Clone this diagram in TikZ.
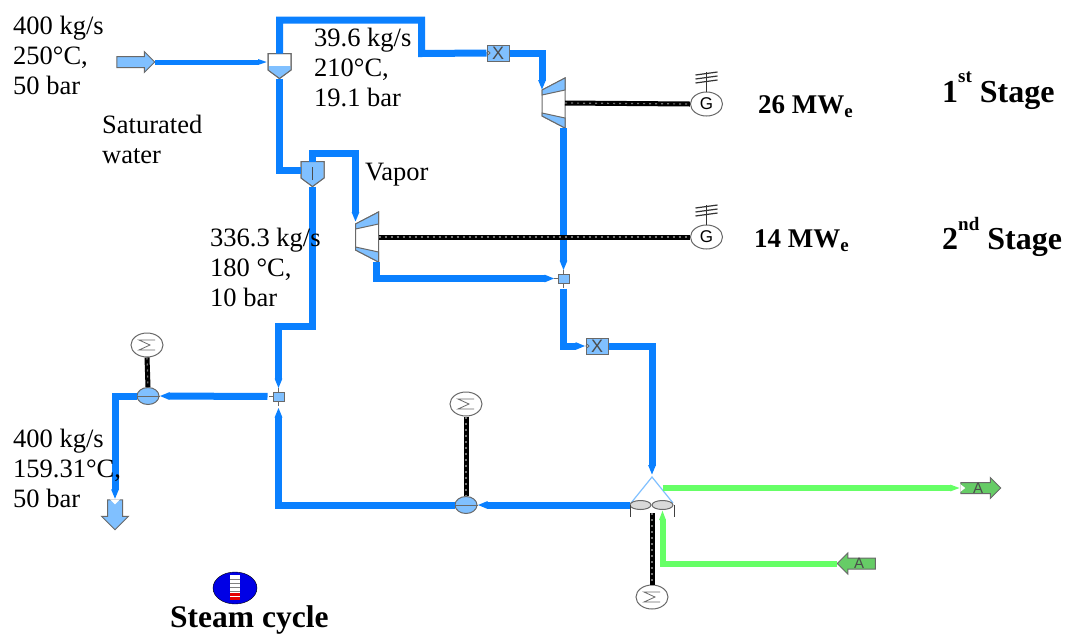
\documentclass[tikz,border=0pt]{standalone}
\usepackage{fontspec}
\setmainfont{Liberation Serif}
\setsansfont{Liberation Sans}
\usetikzlibrary{arrows.meta,shapes.geometric,shapes.arrows}
\definecolor{pipeblue}{RGB}{10,128,255}
\definecolor{waterblue}{RGB}{128,192,255}
\definecolor{pipegreen}{RGB}{102,255,102}
\definecolor{airgreen}{RGB}{102,204,102}
\definecolor{edgegray}{RGB}{105,105,105}
\tikzset{
  pipe/.style={draw=pipeblue,line width=7pt,-{Triangle[length=10pt,width=7pt]}},
  pipeplain/.style={draw=pipeblue,line width=7pt},
  pipethin/.style={draw=pipeblue,line width=5pt,-{Triangle[length=10pt,width=5pt]}},
  airpipe/.style={draw=pipegreen,line width=6pt,-{Triangle[length=10pt,width=6pt]}},
  shaft/.style={draw=black,line width=5pt,postaction={draw=white!45!black,line width=1.2pt,dash pattern=on 2pt off 4pt}},
  part/.style={draw=edgegray,line width=1pt},
  hold/.style={inner sep=0pt,outer sep=0pt,rectangle},
  valvebox/.style={part,fill=waterblue,text=black!70,rectangle,inner sep=0pt,minimum width=22pt,minimum height=16pt,font=\sffamily\fontsize{18}{18}\selectfont},
  mixbox/.style={part,fill=waterblue,rectangle,inner sep=0pt,minimum width=11pt,minimum height=9pt},
  round/.style={part,fill=white,ellipse,inner sep=0pt,minimum width=32pt,minimum height=24pt},
  pumpnode/.style={part,fill=waterblue,ellipse,inner sep=0pt,minimum width=22pt,minimum height=17pt},
  portarrow/.style={part,single arrow,inner xsep=0pt,inner ysep=0pt,text height=10pt,text depth=0pt,single arrow head extend=5pt,text=black!70,font=\sffamily\fontsize{15}{15}\selectfont},
  lbl/.style={align=left,anchor=west,inner sep=0pt,font=\fontsize{26.5}{30}\selectfont},
  boldlbl/.style={anchor=west,inner sep=0pt,font=\bfseries\fontsize{27}{30}\selectfont},
  stagelbl/.style={anchor=west,inner sep=0pt,font=\bfseries\fontsize{32}{30}\selectfont},
}
% name, x, y
\newcommand{\Turbine}[3]{
  \begin{scope}[shift={(#2,#3)}]
  \draw[part,fill=white] (-11.5,-13) -- (11.5,-25) -- (11.5,25) -- (-11.5,13) -- cycle;
  \draw[part,fill=waterblue] (-11.5,-13) -- (11.5,-25) -- (11.5,-13) -- (-11.5,-8) -- cycle;
  \draw[part,fill=waterblue] (-11.5,10) -- (11.5,15) -- (11.5,25) -- (-11.5,13) -- cycle;
  \node[hold,minimum width=23pt,minimum height=50pt] (#1) at (0,0) {};
  \end{scope}
}
% name, x, y, top of the water
\newcommand{\FlashTank}[4]{
  \begin{scope}[shift={(#2,#3)}]
  \draw[part,fill=white] (-11.5,-12.5) -- (11.5,-12.5) -- (11.5,4) -- (0,12.5) -- (-11.5,4) -- cycle;
  \fill[waterblue] (-11,#4) -- (11,#4) -- (11,4) -- (0,12) -- (-11,4) -- cycle;
  \draw[part] (-11.5,-12.5) -- (11.5,-12.5) -- (11.5,4) -- (0,12.5) -- (-11.5,4) -- cycle;
  \node[hold,minimum width=23pt,minimum height=25pt] (#1) at (0,0) {};
  \end{scope}
}
% name, x, y
\newcommand{\Motor}[3]{
  \node[round] (#1) at (#2,#3) {};
  \begin{scope}[shift={(#2,#3)}]
  \draw[part,line width=0.8pt] (8,-5) -- (-8,-5) -- (3,0) -- (-8,5) -- (8,5);
  \end{scope}
}
% name, x, y
\newcommand{\Generator}[3]{
  \node[round,font=\sffamily\fontsize{17}{17}\selectfont] (#1) at (#2,#3) {G};
  \begin{scope}[shift={(#2,#3)}]
  \draw[black!80,line width=1pt] (0,-12) -- (0,-32);
  \draw[black!80,line width=1.2pt] (-11,-29) -- (11,-32);
  \draw[black!80,line width=1.2pt] (-11,-25) -- (11,-28);
  \draw[black!80,line width=1.2pt] (-11,-21) -- (11,-24);
  \end{scope}
}
% name, x, y
\newcommand{\Valve}[3]{
  \node[valvebox] (#1) at (#2,#3) {X};
  \draw[part,fill=white] (#1.west) ++(2,0) circle (1.5pt);
}
% name, x, y
\newcommand{\Mixer}[3]{
  \node[mixbox] (#1) at (#2,#3) {};
  \draw[part,line width=0.7pt] (#1.north) -- ++(0,-4);
  \draw[part,line width=0.7pt] (#1.south) -- ++(0,4);
  \draw[part,line width=0.7pt] (#1.west) -- ++(-4,0);
}
% name, x, y
\newcommand{\Pump}[3]{
  \node[pumpnode] (#1) at (#2,#3) {};
  \draw[part] (#1.west) -- (#1.east);
}

\begin{document}
\begin{tikzpicture}[x=1pt,y=-1pt]
  \useasboundingbox (0,0) rectangle (1068,633);
% parts of the plant
  \node[portarrow,fill=waterblue,minimum height=38pt] (inlet) at (133,62) {};
  \FlashTank{ft1}{279.5}{66}{0}
  \FlashTank{ft2}{312.5}{174}{-12}
  \draw[part,black!70] (312.5,167) -- (312.5,180);
  \Valve{vl1}{498}{53}
  \Valve{vl2}{597}{346}
  \Turbine{tb1}{553.5}{103}
  \Turbine{tb2}{367}{237}
  \Generator{gn1}{706.5}{104}
  \Generator{gn2}{706.5}{237}
  \Mixer{mx1}{563.5}{278.5}
  \Mixer{mx2}{278.5}{396.5}
  \Pump{pm1}{148}{396}
  \Pump{pm2}{466}{505}
  \Motor{mt1}{147}{345}
  \Motor{mt2}{466}{404}
  \Motor{mt3}{652}{597}
  \node[portarrow,fill=waterblue,rotate=-90,text height=14pt,single arrow head extend=6pt,minimum height=30pt] (outlet) at (115,511) {};
  \fill[white] (outlet.tail) ++(-5,0) -- ++(10,0) -- ++(-5,5) -- cycle;
% condenser
  \node[hold,minimum width=44pt,minimum height=36pt] (hx) at (652,495) {};
  \draw[waterblue,line width=1.2pt] (631,503) -- (hx.north) -- (673,503);
  \node[part,fill=black!15,ellipse,inner sep=0pt,minimum width=21pt,minimum height=9pt] (hxl) at (640.5,505) {};
  \node[part,fill=black!15,ellipse,inner sep=0pt,minimum width=21pt,minimum height=9pt] (hxr) at (662.5,505) {};
  \draw[black!75,line width=1pt] (630,505) -- (630,517);
  \draw[black!75,line width=1pt] (674,505) -- (674,517);
% air ports
  \node[portarrow,fill=airgreen,minimum height=40pt] (aout) at (978,488) {A};
  \fill[white] (aout.tail) ++(0,-4) -- ++(5,4) -- ++(-5,4) -- cycle;
  \node[portarrow,fill=airgreen,shape border rotate=180,minimum height=38pt] (ain) at (859,563.5) {A};
% steam and water
  \draw[pipethin] (inlet.tip) -- (inlet.tip -| ft1.west);
  \draw[pipeplain] (ft1.north) -- ++(0,-33.5) -- ++(142,0) -- ++(0,33.5) -- (vl1.west);
  \draw[pipe] (vl1.east) -| ([yshift=-12pt]tb1.north west);
  \draw[pipeplain] (ft1.south) |- ([yshift=4pt]ft2.west);
  \draw[pipe] (ft2.north) -- ++(0,-8.5) -| ([yshift=-10pt]tb2.north west);
  \draw[pipe,shorten >=3pt] (tb1.south east -| mx1.north) -- (mx1.north);
  \draw[pipe,shorten >=3pt] ([xshift=-2pt]tb2.south east) |- (mx1.west);
  \draw[pipe,shorten <=5pt] (mx1.south) |- (vl2.west);
  \draw[pipe,shorten >=2pt] (vl2.east) -| (hx.north);
  \draw[pipe] (hxl.west) -- (pm2.east);
  \draw[pipe,shorten >=6pt] (pm2.west) -| (mx2.south);
  \draw[pipe,shorten >=3pt] (ft2.south) -- ++(0,140) -| (mx2.north);
  \draw[pipe,shorten <=5pt] (mx2.west) -- (pm1.east);
  \draw[pipe] (pm1.west) -| (outlet.tail);
% air
  \draw[airpipe] (hxr.north |- aout.tail) -- (aout.tail);
  \draw[airpipe] (ain.tip) -| (hxr.south);
% shafts
  \draw[shaft] (tb1.east) -- (gn1.west);
  \draw[shaft] (tb2.east) -- (gn2.west);
  \draw[shaft] (mt1.south) -- (pm1.north);
  \draw[shaft] (mt2.south) -- (pm2.north);
  \draw[shaft] (hx.south) -- (mt3.north);
% labels
  \node[lbl] (t1) at (13,55) {400 kg/s\\250°C,\\50 bar};
  \node[lbl] (t2) at (314,67) {39.6 kg/s\\210°C,\\19.1 bar};
  \node[lbl] (t3) at (102,139) {Saturated\\water};
  \node[lbl] (t4) at (365,175) {Vapor};
  \node[lbl] (t5) at (210,267) {336.3 kg/s\\180 °C,\\10 bar};
  \node[lbl] (t6) at (13,468) {400 kg/s\\159.31°C,\\50 bar};
  \node[boldlbl] (p1) at (758,107) {26 MW\textsubscript{e}};
  \node[boldlbl] (p2) at (754,241) {14 MW\textsubscript{e}};
  \node[stagelbl] (s1) at (942,91) {1\raisebox{0.62em}{\fontsize{19}{19}\selectfont st}\ Stage};
  \node[stagelbl] (s2) at (942,237) {2\raisebox{0.62em}{\fontsize{19}{19}\selectfont nd}\ Stage};
% icon
  \node[draw=black,fill=blue!90!black,ellipse,inner sep=0pt,minimum width=44pt,minimum height=32pt] (ic) at (235,588) {};
  \fill[white] (230,575) rectangle (240,600);
  \foreach \k in {579,583,587,591} \draw[black!50,line width=0.8pt] (230,\k) -- (240,\k);
  \fill[red!90!black] (230,592.5) rectangle (240,595.5);
  \fill[red!90!black] (230,597) rectangle (240,600);
  \node[anchor=west,inner sep=0pt,font=\bfseries\fontsize{31.5}{30}\selectfont] (ttl) at (170,620) {Steam cycle};
\end{tikzpicture}
\end{document}
